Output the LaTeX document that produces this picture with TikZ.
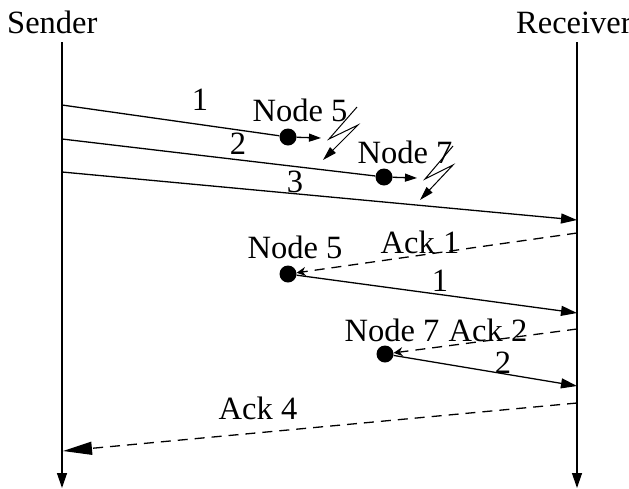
\documentclass[tikz,border=0pt]{standalone}
\usepackage{fontspec}
\setmainfont{Liberation Serif}
\usetikzlibrary{arrows.meta}
\begin{document}
\begin{tikzpicture}[x=1pt,y=-1pt,
  every node/.style={font=\fontsize{32.5}{36}\selectfont, inner sep=0pt},
  life/.style={line width=1.3pt,-{Triangle[length=15pt,width=10pt]}},
  msg/.style={line width=1.3pt,-{Triangle[length=16pt,width=10pt]}},
  ack/.style={line width=1.3pt,dash pattern=on 10pt off 7pt,-{Stealth[length=9pt,width=9pt]}},
  bigack/.style={line width=1.3pt,dash pattern=on 10pt off 7pt,-{Triangle[length=29pt,width=13pt]}},
  relay/.style={line width=1.3pt,-{Triangle[length=12pt,width=8pt]}},
  bolt/.style={line width=1pt,-{Triangle[length=14pt,width=8pt]}},
  dot/.style={circle,fill,minimum size=17pt,inner sep=0pt}]
\useasboundingbox (0,0) rectangle (629,488);

% lifelines
\node[anchor=base west] (sender) at (7,33) {Sender};
\node[anchor=base west] (receiver) at (516,33) {Receiver};
\coordinate (stop) at (62,42);
\coordinate (sbot) at (62,488);
\coordinate (rtop) at (577,42);
\coordinate (rbot) at (577,488);
\draw[life] (stop) -- (sbot);
\draw[life] (rtop) -- (rbot);

% points on the lifelines
\coordinate (s1) at (62,105);
\coordinate (s2) at (62,139);
\coordinate (s3) at (62,172);
\coordinate (s4) at (63,451);
\coordinate (r3) at (577,220);
\coordinate (a1) at (577,233);
\coordinate (r1) at (577,313);
\coordinate (a2) at (577,329);
\coordinate (r2) at (577,386);
\coordinate (a4) at (577,403);

% relay nodes
\node[dot] (n5a) at (288,137) {};
\node[dot] (n7a) at (384,177) {};
\node[dot] (n5b) at (288,274) {};
\node[dot] (n7b) at (385,354) {};
\coordinate (f5) at (321,138);
\coordinate (f7) at (417,178);

% first transmission
\draw[line width=1.3pt] (s1) -- (n5a);
\draw[relay] (n5a) -- (f5);
\draw[line width=1.3pt] (s2) -- (n7a);
\draw[relay] (n7a) -- (f7);
\draw[msg] (s3) -- (r3);
\node (l1) at (200,100) {1};
\node (l2) at (238,144) {2};
\node (l3) at (295,182) {3};
\node (t5a) at (300,110) {Node 5};
\node (t7a) at (405,152) {Node 7};

% lost forwards
\draw[bolt] (357,107) -- (329,139) -- (358,125) -- (323,160);
\draw[bolt] (453,146) -- (425,179) -- (453,165) -- (420,200);

% acknowledgements and retransmissions
\draw[ack] (a1) -- (n5b);
\node (ack1) at (420,242) {Ack 1};
\node (t5b) at (295,247) {Node 5};
\draw[msg] (n5b) -- (r1);
\node (l1b) at (440,281) {1};
\draw[ack] (a2) -- (n7b);
\node (t7b) at (392,330) {Node 7};
\node (ack2) at (488,330) {Ack 2};
\draw[msg] (n7b) -- (r2);
\node (l2b) at (503,363) {2};
\draw[bigack] (a4) -- (s4);
\node (ack4) at (258,408) {Ack 4};
\end{tikzpicture}
\end{document}
